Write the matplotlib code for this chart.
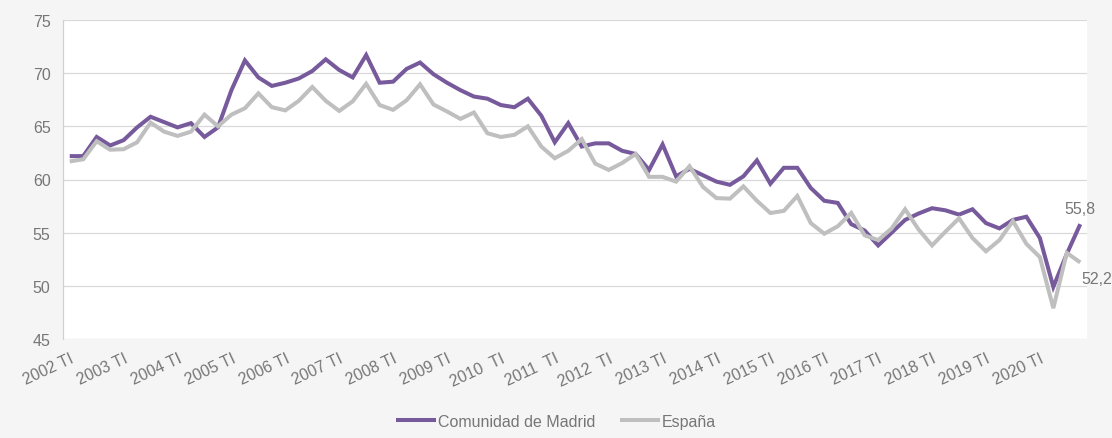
import matplotlib
matplotlib.use("Agg")
import matplotlib.pyplot as plt
import matplotlib.transforms as mtransforms

plt.rcParams["font.family"] = ["Liberation Sans", "DejaVu Sans"]
plt.rcParams["lines.solid_capstyle"] = "butt"
plt.rcParams["lines.solid_joinstyle"] = "miter"

# Quarterly series, 2002 TI .. 2020 TIV
years = list(range(2002, 2021))
tick_labels = [f"{y} TI" if y not in (2010, 2011, 2012) else f"{y}  TI" for y in years]

madrid = [
    62.2, 62.2, 64.0, 63.2, 63.7, 64.9, 65.9, 65.4, 64.9, 65.3,
    64.0, 64.9, 68.4, 71.2, 69.6, 68.8, 69.1, 69.5, 70.2, 71.3,
    70.3, 69.6, 71.7, 69.1, 69.2, 70.4, 71.0, 69.9, 69.1, 68.4,
    67.8, 67.6, 67.0, 66.8, 67.6, 66.0, 63.5, 65.3, 63.1, 63.4,
    63.4, 62.7, 62.4, 60.9, 63.3, 60.3, 61.0, 60.4, 59.8, 59.5,
    60.3, 61.8, 59.6, 61.1, 61.1, 59.2, 58.0, 57.8, 55.8, 55.2,
    53.8, 55.0, 56.2, 56.8, 57.3, 57.1, 56.7, 57.2, 55.9, 55.4,
    56.2, 56.5, 54.5, 49.9, 53.0, 55.8,
]
espana = [
    61.7, 61.9, 63.6, 62.8, 62.85, 63.5, 65.35, 64.5, 64.1, 64.5,
    66.1, 65.0, 66.1, 66.7, 68.1, 66.8, 66.5, 67.4, 68.7, 67.4,
    66.45, 67.35, 69.0, 67.0, 66.55, 67.45, 68.95, 67.05, 66.4, 65.7,
    66.3, 64.35, 64.0, 64.2, 65.0, 63.1, 62.0, 62.7, 63.8, 61.5,
    60.9, 61.55, 62.4, 60.25, 60.25, 59.8, 61.25, 59.3, 58.25, 58.2,
    59.35, 58.0, 56.85, 57.05, 58.45, 55.9, 54.9, 55.6, 56.85, 54.75,
    54.3, 55.4, 57.2, 55.3, 53.8, 55.1, 56.35, 54.5, 53.25, 54.3,
    56.1, 53.95, 52.7, 47.9, 53.1, 52.2,
]

purple = "#775A9C"
grey = "#BFBFBF"
text_col = "#767676"
fs = 11.5

fig = plt.figure(figsize=(11.12, 4.39), dpi=100, facecolor="#F5F5F5")
ax = fig.add_axes([63 / 1112, 1 - 340 / 439, 1024 / 1112, 319 / 439])
ax.set_facecolor("white")

x = list(range(len(madrid)))
ax.plot(x, madrid, color=purple, lw=2.9, label="Comunidad de Madrid", zorder=3)
ax.plot(x, espana, color=grey, lw=2.9, label="España", zorder=4)

ax.set_xlim(-0.5, len(madrid) - 0.5)
ax.set_ylim(45, 75)
ax.set_yticks(range(45, 80, 5))
ax.grid(axis="y", color="#D9D9D9", lw=0.9)
ax.set_axisbelow(True)

for s in ["top", "right", "bottom"]:
    ax.spines[s].set_visible(False)
ax.spines["left"].set_color("#D0D0D0")
ax.spines["left"].set_linewidth(0.9)

ax.set_xticks(range(0, len(madrid), 4))
ax.set_xticklabels(tick_labels, rotation=25, ha="right", rotation_mode="anchor",
                   fontsize=fs, color=text_col)
shift = mtransforms.ScaledTranslation(-2 / 100, 0, fig.dpi_scale_trans)
for lab in ax.get_xticklabels():
    lab.set_transform(lab.get_transform() + shift)
ax.tick_params(axis="x", length=0, pad=8)
ax.tick_params(axis="y", length=0, pad=9, labelsize=fs, labelcolor=text_col)

# end labels
ax.annotate(f"{madrid[-1]:.1f}".replace(".", ","), (x[-1], madrid[-1]),
            xytext=(0, 8), textcoords="offset points", ha="center",
            fontsize=fs, color=text_col)
ax.annotate(f"{espana[-1]:.1f}".replace(".", ","), (x[-1], espana[-1]),
            xytext=(12, -15), textcoords="offset points", ha="center",
            fontsize=fs, color=text_col)

leg = fig.legend(loc="lower center", bbox_to_anchor=(0.5, -0.012), ncol=2, frameon=False,
                 fontsize=fs, handlelength=2.5, handletextpad=0.15, columnspacing=1.5)
for t in leg.get_texts():
    t.set_color(text_col)

fig.savefig("out.png", dpi=100, facecolor=fig.get_facecolor())
